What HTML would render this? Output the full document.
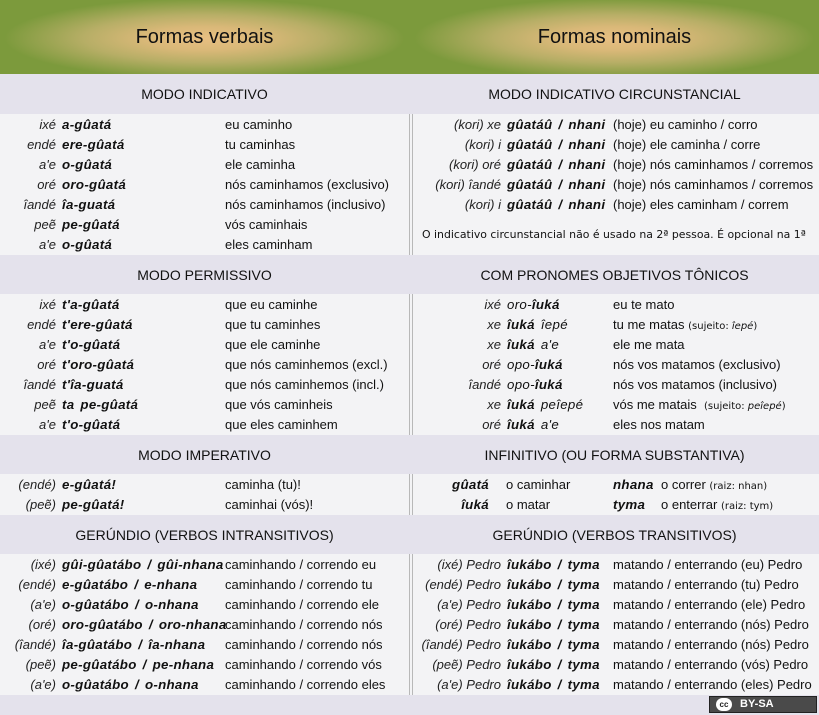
<!DOCTYPE html>
<html><head><meta charset="utf-8"><style>
*{margin:0;padding:0;box-sizing:border-box}
body{width:819px;height:715px;overflow:hidden;background:#e4e2ec;font-family:"Liberation Sans",Arial,sans-serif;color:#111;position:relative}
.hdr{position:absolute;left:0;top:0;width:819px;height:74px;background:#7c9a3c}
.glow{position:absolute;top:0;height:74px;width:409px;background:radial-gradient(ellipse 200px 40px at 50% 52%,#e8bf82 0%,#d9b878 30%,#b7ae66 60%,rgba(124,154,60,0) 100%)}
.hdr span{position:absolute;top:26px;font-size:20px;color:#111;width:409px;text-align:center}
.band{position:absolute;width:409px;height:40px;line-height:40px;text-align:center;font-size:14px;color:#111}
.body{position:absolute;left:0;width:819px;background:#f3f3f5}
.div{position:absolute;left:409px;width:4px;border-left:1px solid #b8b8b8;border-right:1px solid #b8b8b8}
.r{position:absolute;height:20px;line-height:20px;font-size:13px;white-space:nowrap}
.l{position:absolute;text-align:right;font-style:italic;color:#222}
.v{position:absolute;font-weight:bold;font-style:italic;font-size:13.3px;letter-spacing:0.3px;word-spacing:2px}
.t{position:absolute}
.s{font-family:"DejaVu Sans",sans-serif;font-size:10px}
.L .l{left:0;width:56px}.L .v{left:62px}.L .t{left:225px}
.R .l{left:410px;width:91px}.R .v{left:507px}.R .t{left:613px}
.n{font-weight:normal}
</style></head><body>
<div class="hdr">
<div class="glow" style="left:0"></div><div class="glow" style="left:410px"></div>
<span style="left:0">Formas verbais</span><span style="left:410px">Formas nominais</span>
</div>
<div class="band" style="left:0;top:74px">MODO INDICATIVO</div>
<div class="band" style="left:410px;top:74px">MODO INDICATIVO CIRCUNSTANCIAL</div>
<div class="body" style="top:114px;height:141px"></div>
<div class="div" style="top:114px;height:141px"></div>
<div class="band" style="left:0;top:255px">MODO PERMISSIVO</div>
<div class="band" style="left:410px;top:255px">COM PRONOMES OBJETIVOS TÔNICOS</div>
<div class="body" style="top:294px;height:141px"></div>
<div class="div" style="top:294px;height:141px"></div>
<div class="band" style="left:0;top:435px">MODO IMPERATIVO</div>
<div class="band" style="left:410px;top:435px">INFINITIVO (OU FORMA SUBSTANTIVA)</div>
<div class="body" style="top:474px;height:41px"></div>
<div class="div" style="top:474px;height:41px"></div>
<div class="band" style="left:0;top:515px">GERÚNDIO (VERBOS INTRANSITIVOS)</div>
<div class="band" style="left:410px;top:515px">GERÚNDIO (VERBOS TRANSITIVOS)</div>
<div class="body" style="top:554px;height:141px"></div>
<div class="div" style="top:554px;height:141px"></div>

<div class="r L" style="top:115px"><span class="l">ixé</span><span class="v">a-gûatá</span><span class="t">eu caminho</span></div>
<div class="r L" style="top:135px"><span class="l">endé</span><span class="v">ere-gûatá</span><span class="t">tu caminhas</span></div>
<div class="r L" style="top:155px"><span class="l">a'e</span><span class="v">o-gûatá</span><span class="t">ele caminha</span></div>
<div class="r L" style="top:175px"><span class="l">oré</span><span class="v">oro-gûatá</span><span class="t">nós caminhamos (exclusivo)</span></div>
<div class="r L" style="top:195px"><span class="l">îandé</span><span class="v">îa-guatá</span><span class="t">nós caminhamos (inclusivo)</span></div>
<div class="r L" style="top:215px"><span class="l">peẽ</span><span class="v">pe-gûatá</span><span class="t">vós caminhais</span></div>
<div class="r L" style="top:235px"><span class="l">a'e</span><span class="v">o-gûatá</span><span class="t">eles caminham</span></div>

<div class="r R" style="top:115px"><span class="l">(kori) xe</span><span class="v">gûatáû / nhani</span><span class="t">(hoje) eu caminho / corro</span></div>
<div class="r R" style="top:135px"><span class="l">(kori) i</span><span class="v">gûatáû / nhani</span><span class="t">(hoje) ele caminha / corre</span></div>
<div class="r R" style="top:155px"><span class="l">(kori) oré</span><span class="v">gûatáû / nhani</span><span class="t">(hoje) nós caminhamos / corremos</span></div>
<div class="r R" style="top:175px"><span class="l">(kori) îandé</span><span class="v">gûatáû / nhani</span><span class="t">(hoje) nós caminhamos / corremos</span></div>
<div class="r R" style="top:195px"><span class="l">(kori) i</span><span class="v">gûatáû / nhani</span><span class="t">(hoje) eles caminham / correm</span></div>
<div class="r" style="top:225px;left:422px;font-family:'DejaVu Sans',sans-serif;font-size:10.9px">O indicativo circunstancial não é usado na 2ª pessoa. É opcional na 1ª</div>

<div class="r L" style="top:295px"><span class="l">ixé</span><span class="v">t'a-gûatá</span><span class="t">que eu caminhe</span></div>
<div class="r L" style="top:315px"><span class="l">endé</span><span class="v">t'ere-gûatá</span><span class="t">que tu caminhes</span></div>
<div class="r L" style="top:335px"><span class="l">a'e</span><span class="v">t'o-gûatá</span><span class="t">que ele caminhe</span></div>
<div class="r L" style="top:355px"><span class="l">oré</span><span class="v">t'oro-gûatá</span><span class="t">que nós caminhemos (excl.)</span></div>
<div class="r L" style="top:375px"><span class="l">îandé</span><span class="v">t'îa-guatá</span><span class="t">que nós caminhemos (incl.)</span></div>
<div class="r L" style="top:395px"><span class="l">peẽ</span><span class="v">ta pe-gûatá</span><span class="t">que vós caminheis</span></div>
<div class="r L" style="top:415px"><span class="l">a'e</span><span class="v">t'o-gûatá</span><span class="t">que eles caminhem</span></div>

<div class="r R" style="top:295px"><span class="l">ixé</span><span class="v"><span class="n">oro-</span>îuká</span><span class="t">eu te mato</span></div>
<div class="r R" style="top:315px"><span class="l">xe</span><span class="v">îuká <span class="n">îepé</span></span><span class="t">tu me matas <span class="s">(sujeito: <i>îepé</i>)</span></span></div>
<div class="r R" style="top:335px"><span class="l">xe</span><span class="v">îuká <span class="n">a'e</span></span><span class="t">ele me mata</span></div>
<div class="r R" style="top:355px"><span class="l">oré</span><span class="v"><span class="n">opo-</span>îuká</span><span class="t">nós vos matamos (exclusivo)</span></div>
<div class="r R" style="top:375px"><span class="l">îandé</span><span class="v"><span class="n">opo-</span>îuká</span><span class="t">nós vos matamos (inclusivo)</span></div>
<div class="r R" style="top:395px"><span class="l">xe</span><span class="v">îuká <span class="n">peîepé</span></span><span class="t">vós me matais &nbsp;<span class="s">(sujeito: <i>peîepé</i>)</span></span></div>
<div class="r R" style="top:415px"><span class="l">oré</span><span class="v">îuká <span class="n">a'e</span></span><span class="t">eles nos matam</span></div>

<div class="r L" style="top:475px"><span class="l">(endé)</span><span class="v">e-gûatá!</span><span class="t">caminha (tu)!</span></div>
<div class="r L" style="top:495px"><span class="l">(peẽ)</span><span class="v">pe-gûatá!</span><span class="t">caminhai (vós)!</span></div>
<div class="r" style="top:475px;left:410px;width:409px"><span class="v" style="left:0;width:79px;text-align:right">gûatá</span><span class="t" style="left:96px">o caminhar</span><span class="v" style="left:203px">nhana</span><span class="t" style="left:251px">o correr <span class="s">(raiz: nhan)</span></span></div>
<div class="r" style="top:495px;left:410px;width:409px"><span class="v" style="left:0;width:79px;text-align:right">îuká</span><span class="t" style="left:96px">o matar</span><span class="v" style="left:203px">tyma</span><span class="t" style="left:251px">o enterrar <span class="s">(raiz: tym)</span></span></div>

<div class="r L" style="top:555px"><span class="l">(ixé)</span><span class="v">gûi-gûatábo / gûi-nhana</span><span class="t">caminhando / correndo eu</span></div>
<div class="r L" style="top:575px"><span class="l">(endé)</span><span class="v">e-gûatábo / e-nhana</span><span class="t">caminhando / correndo tu</span></div>
<div class="r L" style="top:595px"><span class="l">(a'e)</span><span class="v">o-gûatábo / o-nhana</span><span class="t">caminhando / correndo ele</span></div>
<div class="r L" style="top:615px"><span class="l">(oré)</span><span class="v">oro-gûatábo / oro-nhana</span><span class="t">caminhando / correndo nós</span></div>
<div class="r L" style="top:635px"><span class="l">(îandé)</span><span class="v">îa-gûatábo / îa-nhana</span><span class="t">caminhando / correndo nós</span></div>
<div class="r L" style="top:655px"><span class="l">(peẽ)</span><span class="v">pe-gûatábo / pe-nhana</span><span class="t">caminhando / correndo vós</span></div>
<div class="r L" style="top:675px"><span class="l">(a'e)</span><span class="v">o-gûatábo / o-nhana</span><span class="t">caminhando / correndo eles</span></div>

<div class="r R" style="top:555px"><span class="l">(ixé) Pedro</span><span class="v">îukábo / tyma</span><span class="t">matando / enterrando (eu) Pedro</span></div>
<div class="r R" style="top:575px"><span class="l">(endé) Pedro</span><span class="v">îukábo / tyma</span><span class="t">matando / enterrando (tu) Pedro</span></div>
<div class="r R" style="top:595px"><span class="l">(a'e) Pedro</span><span class="v">îukábo / tyma</span><span class="t">matando / enterrando (ele) Pedro</span></div>
<div class="r R" style="top:615px"><span class="l">(oré) Pedro</span><span class="v">îukábo / tyma</span><span class="t">matando / enterrando (nós) Pedro</span></div>
<div class="r R" style="top:635px"><span class="l">(îandé) Pedro</span><span class="v">îukábo / tyma</span><span class="t">matando / enterrando (nós) Pedro</span></div>
<div class="r R" style="top:655px"><span class="l">(peẽ) Pedro</span><span class="v">îukábo / tyma</span><span class="t">matando / enterrando (vós) Pedro</span></div>
<div class="r R" style="top:675px"><span class="l">(a'e) Pedro</span><span class="v">îukábo / tyma</span><span class="t">matando / enterrando (eles) Pedro</span></div>

<div style="position:absolute;left:709px;top:696px;width:108px;height:17px;background:#4a4a4a;border:1px solid #222;color:#fff;font-size:11px;font-weight:bold;line-height:15px">
<span style="position:absolute;left:6px;top:1px;width:16px;height:13px;border-radius:7px;background:#fff;color:#222;font-size:8px;line-height:13px;text-align:center">cc</span>
<span style="position:absolute;left:30px;top:0">BY-SA</span></div>
</body></html>
